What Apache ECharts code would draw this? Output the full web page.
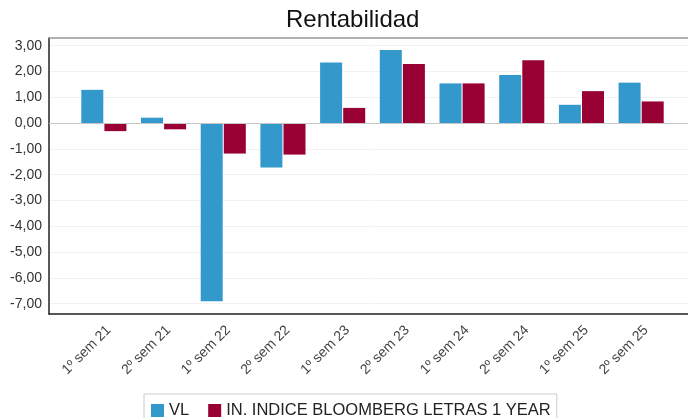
<!DOCTYPE html>
<html>
<head>
<meta charset="utf-8">
<script src="https://cdn.jsdelivr.net/npm/echarts@6/dist/echarts.min.js"></script>
<style>
  html, body { margin: 0; padding: 0; background: #fff; }
  #chart { width: 688px; height: 418px; }
</style>
</head>
<body>
<div id="chart"></div>
<script>
// semestres
const categories = ['1º sem 21', '2º sem 21', '1º sem 22', '2º sem 22', '1º sem 23',
    '2º sem 23', '1º sem 24', '2º sem 24', '1º sem 25', '2º sem 25'];
const vlValues = [1.29, 0.21, -6.91, -1.72, 2.35, 2.83, 1.54, 1.87, 0.71, 1.57];
const indexValues = [-0.31, -0.24, -1.18, -1.22, 0.59, 2.29, 1.54, 2.44, 1.24, 0.84];
const seriesNames = ['VL', 'IN. INDICE BLOOMBERG LETRAS 1 YEAR'];
const yMin = -7.4;
const yMax = 3.3;

const FONT = 'Liberation Sans';
const BLUE = '#3399cc';
const RED = '#990033';

const chart = echarts.init(document.getElementById('chart'));

const fmt = (v) => {
    if (Math.abs(v - Math.round(v)) > 1e-6) return '';
    return v.toFixed(2).replace('.', ',');
};

const option = {
    animation: false,
    title: {
        text: 'Rentabilidad',
        left: 281,
        top: 3,
        textStyle: { fontFamily: FONT, fontSize: 24, fontWeight: 'normal', color: '#111' }
    },
    legend: {
        data: seriesNames,
        left: 144,
        top: 394,
        padding: [8, 6, 8, 7],
        itemWidth: 13,
        itemHeight: 13,
        itemGap: 19,
        icon: 'rect',
        borderColor: '#cccccc',
        borderWidth: 1,
        textStyle: { fontFamily: FONT, fontSize: 16.5, color: '#222' }
    },
    grid: [
        // marco del gráfico
        { left: 49, right: 0, top: 38, bottom: 104 },
        // zona de las barras
        { left: 74, right: 17, top: 38, bottom: 104 }
    ],
    xAxis: [
        {
            type: 'value', gridIndex: 0, min: 0, max: 1, position: 'bottom',
            axisLine: { show: true, onZero: false, lineStyle: { color: '#222', width: 1.5 } },
            axisTick: { show: false }, axisLabel: { show: false }, splitLine: { show: false }
        },
        {
            type: 'value', gridIndex: 0, min: 0, max: 1, position: 'top',
            axisLine: { show: true, onZero: false, lineStyle: { color: '#999', width: 1.5 } },
            axisTick: { show: false }, axisLabel: { show: false }, splitLine: { show: false }
        },
        {
            type: 'category', gridIndex: 1, data: categories,
            axisLine: { show: false }, axisTick: { show: false },
            axisLabel: {
                rotate: 45, margin: 9, interval: 0, verticalAlign: 'top',
                fontFamily: FONT, fontSize: 14, color: '#444'
            }
        }
    ],
    yAxis: [
        {
            type: 'value', gridIndex: 0, min: yMin, max: yMax,
            splitNumber: 10, minInterval: 1, maxInterval: 1,
            axisLine: { show: true, lineStyle: { color: '#222', width: 1.5 } },
            axisTick: { show: false },
            axisLabel: { formatter: fmt, margin: 7, fontFamily: FONT, fontSize: 14, color: '#333' },
            splitLine: { show: true, lineStyle: { color: '#f2f2f2', width: 1 } }
        },
        {
            type: 'value', gridIndex: 1, min: yMin, max: yMax,
            show: false, splitLine: { show: false }
        }
    ],
    series: [
        {
            // línea del cero sobre todo el marco
            type: 'line', xAxisIndex: 0, yAxisIndex: 0, data: [],
            silent: true,
            markLine: {
                silent: true, symbol: 'none', label: { show: false },
                lineStyle: { color: '#c8c8c8', type: 'solid', width: 1 },
                data: [{ yAxis: 0 }]
            }
        },
        {
            name: seriesNames[0], type: 'bar', xAxisIndex: 2, yAxisIndex: 1,
            data: vlValues, barWidth: 22, barGap: '5%',
            itemStyle: { color: BLUE }
        },
        {
            name: seriesNames[1], type: 'bar', xAxisIndex: 2, yAxisIndex: 1,
            data: indexValues, barWidth: 22, barGap: '5%',
            itemStyle: { color: RED }
        }
    ]
};

chart.setOption(option);
</script>
</body>
</html>
